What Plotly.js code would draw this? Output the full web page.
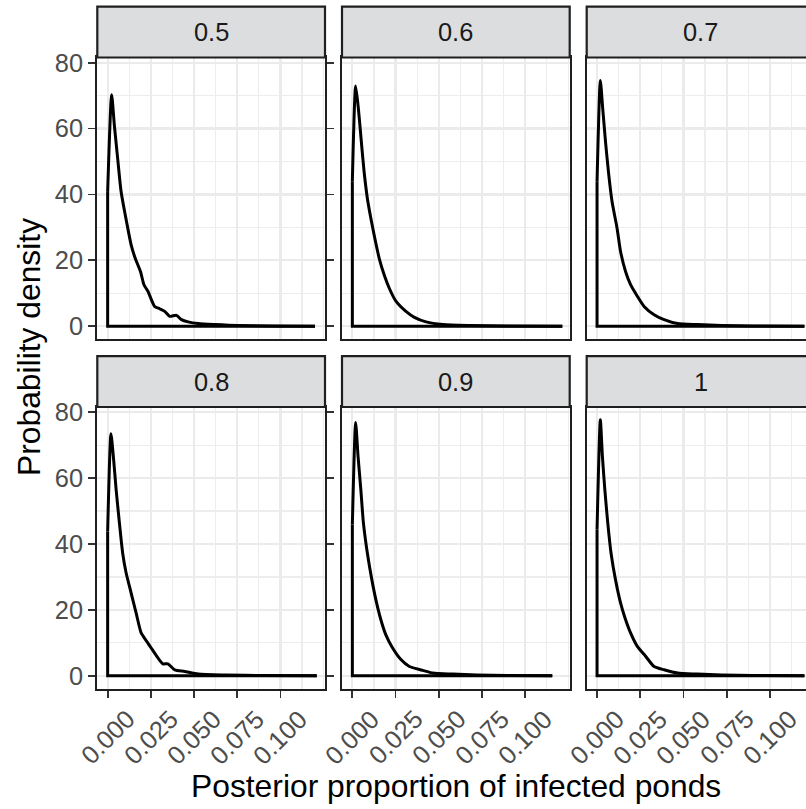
<!DOCTYPE html>
<html>
<head>
<meta charset="utf-8">
<script src="https://cdn.plot.ly/plotly-3.0.1.min.js"></script>
<style>
html,body{margin:0;padding:0;overflow:hidden;background:#fff;}
#chart{width:830px;height:809px;}
</style>
</head>
<body>
<div id="chart"></div>
<script>
// Facet labels (detection probability)
const facetLabels = ["0.5", "0.6", "0.7", "0.8", "0.9", "1"];

// Density curves (x = posterior proportion, y = density)
const x_05 = [0, 0.0023, 0.0039, 0.0058, 0.0078, 0.0113, 0.0136, 0.0159, 0.0190, 0.0210, 0.0233, 0.0272, 0.0301, 0.0330, 0.0359, 0.0398, 0.0427, 0.0466, 0.0524, 0.0621, 0.0757, 0.095, 0.120];
const y_05 = [40.8, 70.3, 60.9, 50.9, 40.8, 30.7, 24.7, 20.7, 16.6, 12.6, 10.6, 6.0, 5.3, 4.5, 3.0, 3.3, 2.0, 1.3, 0.8, 0.5, 0.2, 0.1, 0];

const x_06 = [0, 0.0019, 0.0035, 0.0052, 0.0068, 0.0087, 0.0107, 0.0130, 0.0155, 0.0184, 0.0213, 0.0252, 0.0310, 0.0359, 0.0427, 0.0524, 0.068, 0.090, 0.1215];
const y_06 = [44.0, 72.9, 66.0, 56.0, 46.9, 38.8, 32.8, 26.7, 20.7, 15.6, 11.6, 7.6, 4.5, 2.7, 1.3, 0.5, 0.2, 0.05, 0];

const x_07 = [0, 0.0019, 0.0033, 0.0049, 0.0068, 0.0087, 0.0116, 0.0136, 0.0165, 0.0194, 0.0233, 0.0272, 0.0330, 0.0388, 0.0466, 0.058, 0.072, 0.090, 0.120];
const y_07 = [43.9, 74.6, 66.0, 56.0, 45.9, 37.8, 29.7, 22.7, 16.6, 12.6, 9.1, 6.0, 3.5, 2.0, 0.8, 0.5, 0.2, 0.05, 0];

const x_08 = [0, 0.0019, 0.0033, 0.0049, 0.0068, 0.0087, 0.0107, 0.0136, 0.0165, 0.0194, 0.0233, 0.0252, 0.0291, 0.0320, 0.0349, 0.0388, 0.0446, 0.0524, 0.068, 0.090, 0.121];
const y_08 = [43.8, 73.5, 66.6, 56.5, 46.4, 37.2, 31.2, 25.1, 19.0, 13.0, 9.9, 8.4, 5.4, 3.6, 3.6, 1.8, 1.3, 0.5, 0.2, 0.05, 0];

const x_09 = [0, 0.0019, 0.0033, 0.0049, 0.0064, 0.0087, 0.0113, 0.0136, 0.0165, 0.0194, 0.0233, 0.0281, 0.0330, 0.0408, 0.0466, 0.058, 0.072, 0.090, 0.1157];
const y_09 = [45.9, 76.9, 66.6, 56.5, 46.4, 37.2, 29.1, 23.1, 17.0, 12.4, 8.4, 4.9, 2.8, 1.6, 0.8, 0.5, 0.2, 0.05, 0];

const x_10 = [0, 0.0019, 0.0031, 0.0045, 0.0062, 0.0081, 0.0107, 0.0136, 0.0159, 0.0194, 0.0233, 0.0281, 0.0330, 0.0388, 0.0466, 0.058, 0.072, 0.090, 0.120];
const y_10 = [44.5, 77.7, 66.6, 56.5, 46.4, 37.2, 29.1, 22.1, 18.0, 13.0, 8.9, 5.9, 2.8, 1.8, 0.8, 0.5, 0.2, 0.05, 0];

const xTickVals = [0, 0.025, 0.05, 0.075, 0.1];
const xTickLabels = ["0.000", "0.025", "0.050", "0.075", "0.100"];
const yTickVals = [0, 20, 40, 60, 80];
const yTickLabels = ["0", "20", "40", "60", "80"];

const seriesX = [x_05, x_06, x_07, x_08, x_09, x_10];
const seriesY = [y_05, y_06, y_07, y_08, y_09, y_10];

// ---- layout geometry (pixels) ----
const W = 830, H = 809;
const colLeft = [97.3, 342, 586.7];
const panelW = 227.7;
const rowTop = [57.5, 407];
const panelH = 281.5;
const stripH = 50.8;
const xRange = [-0.00599, 0.12578];
const yRange = [-3.885, 81.585];

const FONT = "Liberation Sans, Arial, Helvetica, sans-serif";
const TICK = 25.4, TITLE = 31.8;
const BORDER = "#1F1F1F";
const traces = [];
const layout = {
  width: W, height: H,
  margin: {l: 0, r: 0, t: 0, b: 0},
  paper_bgcolor: "#ffffff",
  plot_bgcolor: "#ffffff",
  showlegend: false,
  font: {family: FONT, color: "#4D4D4D", size: TICK},
  shapes: [],
  annotations: []
};

for (let i = 0; i < 6; i++) {
  const r = Math.floor(i / 3), c = i % 3;
  const n = i + 1;
  const xa = "xaxis" + (n === 1 ? "" : n), ya = "yaxis" + (n === 1 ? "" : n);
  const xr = "x" + (n === 1 ? "" : n), yr = "y" + (n === 1 ? "" : n);
  const L = colLeft[c], T = rowTop[r];
  const bottomRow = r === 1, leftCol = c === 0;

  layout[xa] = {
    domain: [L / W, (L + panelW) / W],
    anchor: yr,
    range: xRange,
    tickmode: "array", tickvals: xTickVals, ticktext: xTickLabels,
    showticklabels: false,
    ticks: bottomRow ? "outside" : "",
    ticklen: 7, tickwidth: 1.8, tickcolor: "#333333",
    showgrid: true, gridcolor: "#EBEBEB", gridwidth: 2.2,
    minor: {dtick: 0.0125, showgrid: true, gridcolor: "#EDEDED", gridwidth: 1.2},
    zeroline: false,
    showline: true, mirror: "all", linecolor: BORDER, linewidth: 2.2,
    fixedrange: true
  };
  layout[ya] = {
    domain: [1 - (T + panelH) / H, 1 - T / H],
    anchor: xr,
    range: yRange,
    tickmode: "array", tickvals: yTickVals, ticktext: yTickLabels,
    showticklabels: leftCol,
    ticks: leftCol ? "outside" : "",
    ticklen: 7, tickwidth: 1.8, tickcolor: "#333333",
    tickfont: {family: FONT, size: TICK, color: "#4D4D4D"},
    showgrid: true, gridcolor: "#EBEBEB", gridwidth: 2.2,
    minor: {dtick: 10, showgrid: true, gridcolor: "#EDEDED", gridwidth: 1.2},
    zeroline: false,
    showline: true, mirror: "all", linecolor: BORDER, linewidth: 2.2,
    fixedrange: true
  };

  const xs = seriesX[i], ys = seriesY[i];
  // baseline and left edge of the density outline
  traces.push({
    type: "scatter", mode: "lines",
    x: [xs[xs.length - 1], xs[0], xs[0]], y: [0, 0, ys[0]],
    xaxis: xr, yaxis: yr,
    line: {color: "#000000", width: 3, shape: "linear"},
    hoverinfo: "skip"
  });
  // density curve
  traces.push({
    type: "scatter", mode: "lines",
    x: xs, y: ys, xaxis: xr, yaxis: yr,
    line: {color: "#000000", width: 3, shape: "spline", smoothing: 0.6},
    hoverinfo: "skip"
  });

  // strip
  layout.shapes.push({
    type: "rect", xref: "paper", yref: "paper",
    x0: L / W, x1: (L + panelW) / W,
    y0: 1 - T / H, y1: 1 - (T - stripH) / H,
    fillcolor: "#DCDDDE", line: {color: BORDER, width: 2.2}
  });
  layout.annotations.push({
    xref: "paper", yref: "paper",
    x: (L + panelW / 2) / W, y: 1 - (T - stripH / 2) / H,
    xanchor: "center", yanchor: "middle", showarrow: false,
    text: facetLabels[i],
    font: {family: FONT, size: TICK, color: "#1A1A1A"}
  });

  if (bottomRow) {
    for (let k = 0; k < xTickVals.length; k++) {
      layout.annotations.push({
        xref: xr, yref: "paper",
        x: xTickVals[k], y: 1 - 737 / H,
        xanchor: "center", yanchor: "middle", showarrow: false,
        textangle: -45,
        text: xTickLabels[k],
        font: {family: FONT, size: TICK, color: "#4D4D4D"}
      });
    }
  }
}

layout.annotations.push({
  xref: "paper", yref: "paper",
  x: 456 / W, y: 1 - 786 / H,
  xanchor: "center", yanchor: "middle", showarrow: false,
  text: "Posterior proportion of infected ponds",
  font: {family: FONT, size: TITLE, color: "#000000"}
});
layout.annotations.push({
  xref: "paper", yref: "paper",
  x: 29 / W, y: 1 - 347 / H,
  xanchor: "center", yanchor: "middle", showarrow: false,
  textangle: -90,
  text: "Probability density",
  font: {family: FONT, size: TITLE, color: "#000000"}
});

Plotly.newPlot("chart", traces, layout, {displayModeBar: false, staticPlot: true});
</script>
</body>
</html>
